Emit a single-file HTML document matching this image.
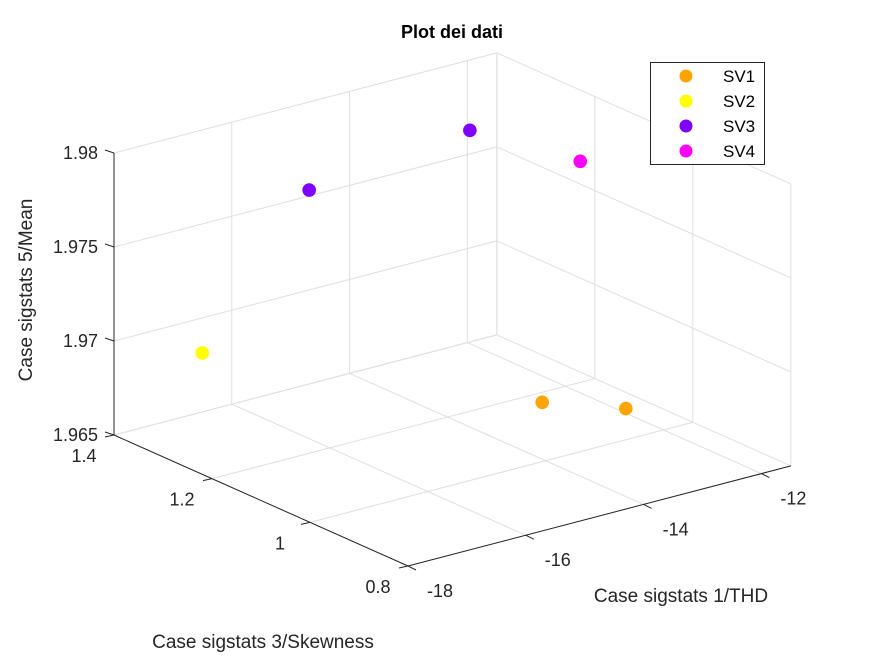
<!DOCTYPE html>
<html><head><meta charset="utf-8"><style>
html,body{margin:0;padding:0;background:#fff;}
svg{display:block;font-family:"Liberation Sans",Arial,sans-serif;}
</style></head><body>
<svg id="chart" width="875" height="656" viewBox="0 0 875 656">
<g id="grid"></g>
<g id="axes"></g>
<g id="pts"></g>
<text x="452" y="38" text-anchor="middle" font-size="18" font-weight="bold">Plot dei dati</text>
<text x="681" y="602" text-anchor="middle" font-size="19" fill="#262626">Case sigstats 1/THD</text>
<text x="263" y="648" text-anchor="middle" font-size="19" fill="#262626">Case sigstats 3/Skewness</text>
<text x="0" y="0" transform="translate(32,290) rotate(-90)" text-anchor="middle" font-size="19" fill="#262626">Case sigstats 5/Mean</text>
<g id="legend">
<rect x="650.5" y="62.5" width="114" height="102" fill="#fff" stroke="#262626" stroke-width="1"/>
</g>
</svg>
<script>
const seriesNames = ["SV1","SV2","SV3","SV4"];
const seriesColors = ["#FFA500","#FFFF00","#7F00FF","#FF00FF"];
const xValues = [[-14.89,-13.47],[-17.75],[-16.35,-12.79],[-12.58]];
const yValues = [[0.9,0.9],[1.25],[1.2,1.3],[1.1]];
const zValues = [[1.97,1.9685],[1.9709],[1.979,1.9781],[1.9786]];
const xTicks = [-18,-16,-14,-12];
const yTicks = [0.8,1,1.2,1.4];
const zTicks = [1.965,1.97,1.975,1.98];
const xTickLabels = ["-18","-16","-14","-12"];
const yTickLabels = ["0.8","1","1.2","1.4"];
const zTickLabels = ["1.965","1.97","1.975","1.98"];
const xLim = [-18,-11.5], yLim = [0.8,1.4], zLim = [1.965,1.98];

const NS = "http://www.w3.org/2000/svg";
function proj(x,y,z){
  const dx = x - xLim[0], dy = (yLim[1]-y)/(yLim[1]-yLim[0]), dz = (z - zLim[0])/0.005;
  return [114 + 58.9*dx + 294*dy, 435 - 15.4*dx + 131*dy - 94*dz];
}
function line(parent,a,b,color,w,name){
  const l = document.createElementNS(NS,"line");
  l.setAttribute("x1",a[0]);l.setAttribute("y1",a[1]);l.setAttribute("x2",b[0]);l.setAttribute("y2",b[1]);
  l.setAttribute("stroke",color);l.setAttribute("stroke-width",w);
  
  
  parent.appendChild(l);
}
function text(parent,x,y,s,anchor,name){
  const t = document.createElementNS(NS,"text");
  t.setAttribute("x",x);t.setAttribute("y",y);t.setAttribute("text-anchor",anchor);
  t.setAttribute("font-size","18");t.setAttribute("fill","#262626");
  t.textContent = s;
  
  
  parent.appendChild(t);
}
const g = document.getElementById("grid"), ax = document.getElementById("axes"), pg = document.getElementById("pts");
const gc = "#dfdfdf";
xTicks.forEach(x=>line(g,proj(x,yLim[0],zLim[0]),proj(x,yLim[1],zLim[0]),gc,1,"floor-grid-x"));
yTicks.forEach(y=>line(g,proj(xLim[0],y,zLim[0]),proj(xLim[1],y,zLim[0]),gc,1,"floor-grid-y"));
xTicks.forEach(x=>line(g,proj(x,yLim[1],zLim[0]),proj(x,yLim[1],zLim[1]),gc,1,"back-grid-x"));
zTicks.forEach(z=>line(g,proj(xLim[0],yLim[1],z),proj(xLim[1],yLim[1],z),gc,1,"back-grid-z"));
yTicks.forEach(y=>line(g,proj(xLim[1],y,zLim[0]),proj(xLim[1],y,zLim[1]),gc,1,"side-grid-y"));
zTicks.forEach(z=>line(g,proj(xLim[1],yLim[0],z),proj(xLim[1],yLim[1],z),gc,1,"side-grid-z"));
line(g,proj(xLim[1],yLim[1],zLim[0]),proj(xLim[1],yLim[1],zLim[1]),gc,1,"back-corner-edge");
const ac = "#262626";
line(ax,proj(xLim[0],yLim[0],zLim[0]),proj(xLim[1],yLim[0],zLim[0]),ac,1,"x-axis-line");
line(ax,proj(xLim[0],yLim[0],zLim[0]),proj(xLim[0],yLim[1],zLim[0]),ac,1,"y-axis-line");
line(ax,proj(xLim[0],yLim[1],zLim[0]),proj(xLim[0],yLim[1],zLim[1]),ac,1,"z-axis-line");
xTicks.forEach((x,i)=>{const p=proj(x,yLim[0],zLim[0]);line(ax,p,[p[0]+8,p[1]+4],ac,1,"x-tick");text(ax,p[0]+32,p[1]+31,xTickLabels[i],"middle","x-tick-label");});
yTicks.forEach((y,i)=>{const p=proj(xLim[0],y,zLim[0]);line(ax,p,[p[0]-9,p[1]+2],ac,1,"y-tick");text(ax,p[0]-30,p[1]+27,yTickLabels[i],"middle","y-tick-label");});
zTicks.forEach((z,i)=>{const p=proj(xLim[0],yLim[1],z);line(ax,p,[p[0]-9,p[1]-3],ac,1,"z-tick");text(ax,p[0]-16,p[1]+6,zTickLabels[i],"end","z-tick-label");});
seriesNames.forEach((n,s)=>{
  xValues[s].forEach((xv,i)=>{
    const p = proj(xv,yValues[s][i],zValues[s][i]);
    const c = document.createElementNS(NS,"circle");
    c.setAttribute("cx",p[0]);c.setAttribute("cy",p[1]);c.setAttribute("r",6.8);c.setAttribute("fill",seriesColors[s]);
    
    
    pg.appendChild(c);
  });
});
const lg = document.getElementById("legend");
seriesNames.forEach((n,s)=>{
  const y = 76 + s*25;
  const c = document.createElementNS(NS,"circle");
  c.setAttribute("cx",686);c.setAttribute("cy",y);c.setAttribute("r",6.5);c.setAttribute("fill",seriesColors[s]);
  
  
  lg.appendChild(c);
  const t = document.createElementNS(NS,"text");
  t.setAttribute("x",723);t.setAttribute("y",y+6);t.setAttribute("font-size","17");t.setAttribute("fill","#000");
  t.textContent = n;
  
  
  lg.appendChild(t);
});
</script>
</body></html>
